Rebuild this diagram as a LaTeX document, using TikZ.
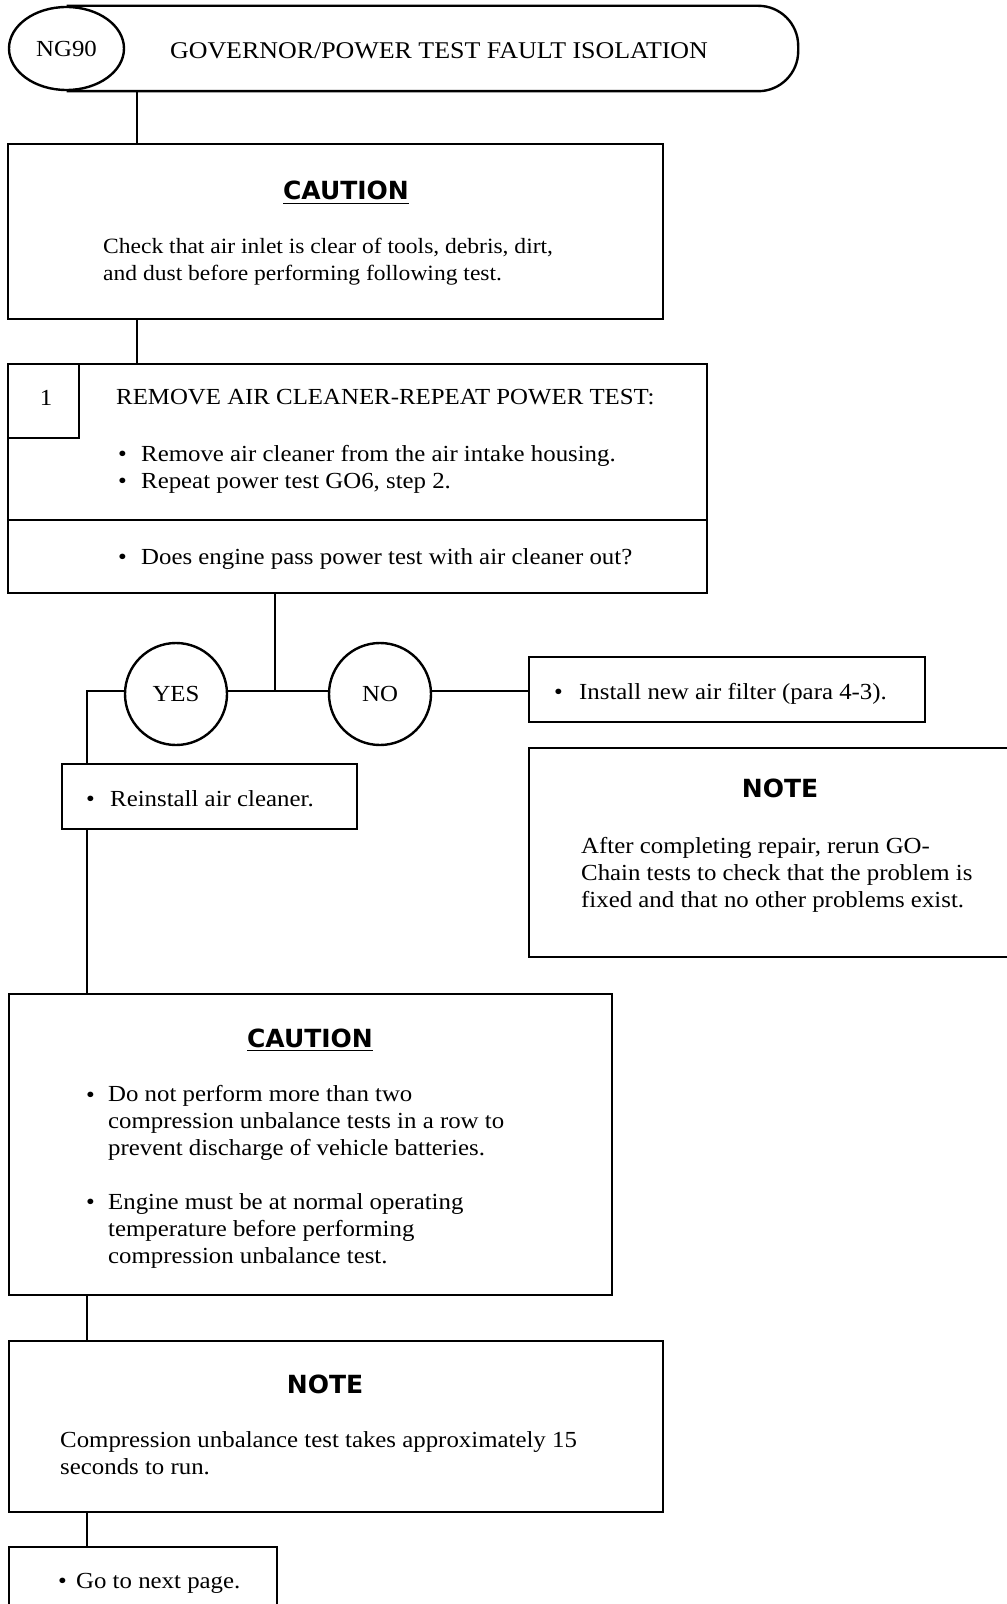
\documentclass[tikz,border=0pt]{standalone}
\usepackage{fontspec}
\setmainfont{Liberation Serif}[FakeStretch=1.08]
\newfontfamily\headfont{DejaVu Sans}
\usetikzlibrary{fit,calc,shapes.geometric}
\newcommand{\bodysize}{\fontsize{11.5}{13.5}\selectfont}
\newcommand{\smallbody}{\fontsize{10.9}{13.5}\selectfont}
\newcommand{\titlesize}{\fontsize{12}{14}\selectfont}
\newcommand{\headsize}{\fontsize{12.5}{14}\selectfont\headfont\bfseries}
\tikzset{
  every picture/.style={x=0.5pt,y=-0.5pt,line width=1.2pt},
  frame/.style={draw,inner sep=0pt},
  bubble/.style={draw,circle,inner sep=0pt,minimum size=51pt,font=\bodysize},
  head/.style={anchor=base,inner sep=0pt,font=\headsize},
  txt/.style={anchor=base west,inner sep=0pt,font=\bodysize,align=left},
}

\begin{document}
\begin{tikzpicture}
  \useasboundingbox (0,0) rectangle (1006,1604);
  % title bar (multi-line nodes sit on their last baseline)
  \node[fit={(8,7) (797,90)},inner sep=0pt] (head) {};
  \node[draw,ellipse,inner sep=0pt,minimum width=57.5pt,minimum height=41.5pt,font=\bodysize] (ng) at (66.5,48.5) {NG90};
  \draw[rounded corners=20pt] (ng.north) -- (head.north east) -- (head.south east) -- (ng.south);
  \node[txt,anchor=base,font=\titlesize] (title) at (439,59) {GOVERNOR/POWER TEST FAULT ISOLATION};
  \coordinate (s1) at (137,0);
  % first caution
  \node[frame,fit={(8,144) (663,319)}] (cau1) {};
  \node[head] (cau1h) at (346,200) {\underline{CAUTION}};
  \node[txt,font=\smallbody] (cau1t) at (102,281) {Check that air inlet is clear of tools, debris, dirt,\\and dust before performing following test.};
  \draw (s1 |- head.south) -- (s1 |- cau1.north);
  % step 1
  \node[frame,fit={(8,364) (707,593)}] (step) {};
  \node[frame,fit={(8,364) (79,438)}] (num) {};
  \node[txt,anchor=base] (numt) at (46,406) {1};
  \coordinate (div) at (0,520);
  \draw (step.west |- div) -- (step.east |- div);
  \node[txt] (steph) at (115,405) {REMOVE AIR CLEANER-REPEAT POWER TEST:};
  \node[txt] (stepb) at (117,488) {\textbullet\\\textbullet};
  \node[txt] (stept) at (140,488) {Remove air cleaner from the air intake housing.\\Repeat power test GO6, step 2.};
  \node[txt] (askb) at (117,564) {\textbullet};
  \node[txt] (askt) at (140,564) {Does engine pass power test with air cleaner out?};
  \draw (s1 |- cau1.south) -- (s1 |- step.north);
  % yes / no
  \coordinate (jn) at (275,691);
  \coordinate (yl) at (87,691);
  \node[bubble] (yes) at (176,694) {YES};
  \node[bubble] (no) at (380,694) {NO};
  \node[frame,fit={(529,657) (925,722)}] (fix) {};
  \node[txt] (fixb) at (553,699) {\textbullet};
  \node[txt] (fixt) at (578,699) {Install new air filter (para 4-3).};
  \node[frame,fit={(529,748) (1020,957)}] (note1) {};
  \node[head] (note1h) at (780,797) {NOTE};
  \node[txt] (note1t) at (580,907) {After completing repair, rerun GO-\\Chain tests to check that the problem is\\fixed and that no other problems exist.};
  \node[frame,fit={(62,764) (357,829)}] (back) {};
  \node[txt] (backb) at (85,806) {\textbullet};
  \node[txt] (backt) at (109,806) {Reinstall air cleaner.};
  \draw (jn |- step.south) -- (jn);
  \draw (yes.east |- jn) -- (no.west |- jn);
  \draw (no.east |- jn) -- (fix.west |- jn);
  \draw (yes.west |- yl) -- (yl) -- (yl |- back.north);
  % second caution
  \node[frame,fit={(9,994) (612,1295)}] (cau2) {};
  \node[head] (cau2h) at (310,1047) {\underline{CAUTION}};
  \node[txt] (cau2b1) at (85,1102) {\textbullet};
  \node[txt] (cau2t1) at (107,1155) {Do not perform more than two\\compression unbalance tests in a row to\\prevent discharge of vehicle batteries.};
  \node[txt] (cau2b2) at (85,1209) {\textbullet};
  \node[txt] (cau2t2) at (107,1263) {Engine must be at normal operating\\temperature before performing\\compression unbalance test.};
  \draw (yl |- back.south) -- (yl |- cau2.north);
  % note and exit
  \node[frame,fit={(9,1341) (663,1512)}] (note2) {};
  \node[head] (note2h) at (325,1393) {NOTE};
  \node[txt] (note2t) at (59,1474) {Compression unbalance test takes approximately 15\\seconds to run.};
  \node[frame,fit={(9,1547) (277,1620)}] (next) {};
  \node[txt] (nextb) at (57,1588) {\textbullet};
  \node[txt] (nextt) at (75,1588) {Go to next page.};
  \draw (yl |- cau2.south) -- (yl |- note2.north);
  \draw (yl |- note2.south) -- (yl |- next.north);
\end{tikzpicture}
\end{document}
